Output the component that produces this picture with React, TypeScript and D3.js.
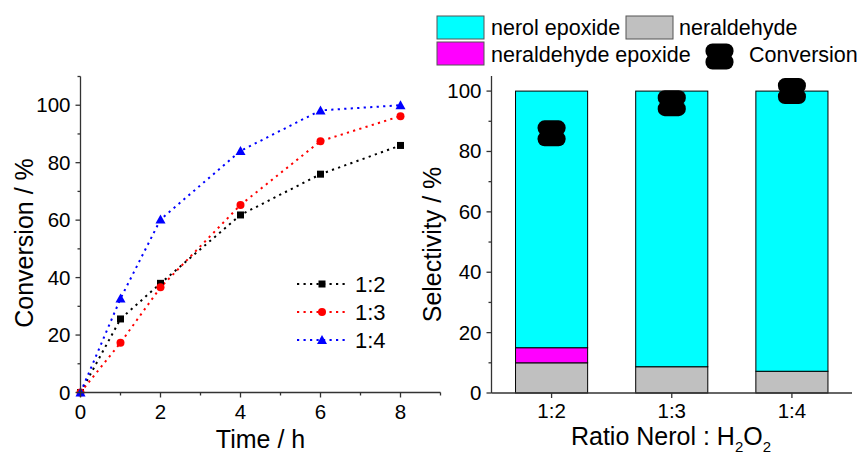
import React from "react";
import * as d3 from "d3";

const times = [0, 1, 2, 4, 6, 8];
const conv12 = [0, 25.6, 38, 61.8, 76, 86];
const conv13 = [0, 17.3, 36.6, 65.3, 87.5, 96.2];
const conv14 = [0, 32.7, 60.2, 84.1, 98.2, 100];
const seriesNames = ["1:2", "1:3", "1:4"];
const seriesColors = ["#000000", "#FF0000", "#0000FF"];

const ratios = ["1:2", "1:3", "1:4"];
const neraldehyde = [10, 8.7, 7.2];
const neraldehydeEpoxide = [5, 0, 0];
const nerolEpoxide = [85, 91.3, 92.8];
const conversion = [86, 96, 100];

const leftXTicks = [0, 2, 4, 6, 8];
const leftYTicks = [0, 20, 40, 60, 80, 100];
const rightYTicks = [0, 20, 40, 60, 80, 100];

const FONT = "'Liberation Sans', Arial, sans-serif";

function Marker({ kind, x, y, color }: { kind: number; x: number; y: number; color: string }) {
  if (kind === 0) return <rect x={x - 3.5} y={y - 3.5} width={7} height={7} fill={color} />;
  if (kind === 1) return <circle cx={x} cy={y} r={4} fill={color} />;
  return <path d={`M${x},${y - 5} L${x + 5},${y + 4} L${x - 5},${y + 4} Z`} fill={color} />;
}

function Blob({ x, y }: { x: number; y: number }) {
  return (
    <g fill="#000">
      <rect x={x - 14} y={y - 13} width={28} height={15} rx={7} ry={7} />
      <rect x={x - 14} y={y - 2} width={28} height={15} rx={7} ry={7} />
    </g>
  );
}

export default function App() {
  const W = 857, H = 455;
  // left chart
  const lx = d3.scaleLinear().domain([0, 9]).range([80.5, 440.5]);
  const ly = d3.scaleLinear().domain([0, 110]).range([392.5, 76.5]);
  const series = [conv12, conv13, conv14];
  const line = (vals: number[]) =>
    d3.line<number>().x((_, i) => lx(times[i])).y((v) => ly(v))(vals) || "";

  // right chart
  const rx = d3.scaleBand<string>().domain(ratios).range([491.5, 852]).paddingInner(0.4).paddingOuter(0.2);
  const ry = d3.scaleLinear().domain([0, 105]).range([393, 76]);

  const axisColor = "#333";
  const leftMinorY = d3.range(10, 111, 20);
  const leftMinorX = [1, 3, 5, 7, 9];
  const rightMinorY = d3.range(10, 101, 20);

  const stacks = ratios.map((r, i) => {
    const a = neraldehyde[i];
    const b = a + neraldehydeEpoxide[i];
    const c = b + nerolEpoxide[i];
    return { r, segs: [[0, a, "#C0C0C0"], [a, b, "#FF00FF"], [b, c, "#00FFFF"]] as [number, number, string][] };
  });

  return (
    <svg width={W} height={H} style={{ display: "block", position: "absolute", left: 0, top: 0 }} fontFamily={FONT}>
      <rect width={W} height={H} fill="#fff" />
      {/* LEFT CHART */}
      <g>
        {series.map((s, si) => (
          <path key={si} d={line(s)} fill="none" stroke={seriesColors[si]} strokeWidth={2} strokeDasharray="2.2 4.3" />
        ))}
        {series.map((s, si) =>
          s.map((v, i) => <Marker key={`${si}-${i}`} kind={si} x={lx(times[i])} y={ly(v)} color={seriesColors[si]} />)
        )}
        {/* axes */}
        <line x1={lx(0)} x2={lx(0)} y1={ly(0)} y2={ly(110)} stroke={axisColor} strokeWidth={1.3} />
        <line x1={lx(0)} x2={lx(9)} y1={ly(0)} y2={ly(0)} stroke={axisColor} strokeWidth={1.3} />
        {leftYTicks.map((t) => (
          <g key={t}>
            <line x1={lx(0) - 5} x2={lx(0)} y1={ly(t)} y2={ly(t)} stroke={axisColor} strokeWidth={1.3} />
            <text x={lx(0) - 10} y={ly(t) + 7} fontSize={20.5} textAnchor="end" fill="#000">{t}</text>
          </g>
        ))}
        {leftMinorY.map((t) => (
          <line key={t} x1={lx(0) - 3} x2={lx(0)} y1={ly(t)} y2={ly(t)} stroke={axisColor} strokeWidth={1.3} />
        ))}
        {leftXTicks.map((t) => (
          <g key={t}>
            <line x1={lx(t)} x2={lx(t)} y1={ly(0)} y2={ly(0) + 5} stroke={axisColor} strokeWidth={1.3} />
            <text x={lx(t)} y={ly(0) + 26} fontSize={20.5} textAnchor="middle" fill="#000">{t}</text>
          </g>
        ))}
        {leftMinorX.map((t) => (
          <line key={t} x1={lx(t)} x2={lx(t)} y1={ly(0)} y2={ly(0) + 3} stroke={axisColor} strokeWidth={1.3} />
        ))}
        <text x={lx(4.5)} y={448} fontSize={25} textAnchor="middle" fill="#000">Time / h</text>
        <text transform={`translate(33,243) rotate(-90)`} fontSize={25} textAnchor="middle" fill="#000">Conversion / %</text>
        {/* legend */}
        {seriesNames.map((n, i) => {
          const yy = 284 + i * 28;
          return (
            <g key={n}>
              <line x1={297} x2={346} y1={yy} y2={yy} stroke={seriesColors[i]} strokeWidth={2} strokeDasharray="2.2 4.3" />
              <Marker kind={i} x={322} y={yy} color={seriesColors[i]} />
              <text x={355} y={yy + 8} fontSize={22} fill="#000">{n}</text>
            </g>
          );
        })}
      </g>

      {/* RIGHT CHART */}
      <g>
        {stacks.map((s) =>
          s.segs.map(([a, b, c], k) =>
            b > a ? (
              <rect key={`${s.r}-${k}`} x={rx(s.r)} y={ry(b)} width={rx.bandwidth()} height={ry(a) - ry(b)} fill={c} stroke="#000" strokeWidth={1} />
            ) : null
          )
        )}
        {ratios.map((r, i) => (
          <Blob key={r} x={(rx(r) || 0) + rx.bandwidth() / 2} y={ry(conversion[i])} />
        ))}
        <line x1={491.5} x2={491.5} y1={ry(0)} y2={ry(105)} stroke={axisColor} strokeWidth={1.3} />
        <line x1={491.5} x2={852} y1={ry(0)} y2={ry(0)} stroke={axisColor} strokeWidth={1.3} />
        {rightYTicks.map((t) => (
          <g key={t}>
            <line x1={486.5} x2={491.5} y1={ry(t)} y2={ry(t)} stroke={axisColor} strokeWidth={1.3} />
            <text x={481.5} y={ry(t) + 7} fontSize={20.5} textAnchor="end" fill="#000">{t}</text>
          </g>
        ))}
        {rightMinorY.map((t) => (
          <line key={t} x1={488.5} x2={491.5} y1={ry(t)} y2={ry(t)} stroke={axisColor} strokeWidth={1.3} />
        ))}
        {ratios.map((r) => {
          const cx = (rx(r) || 0) + rx.bandwidth() / 2;
          return (
            <g key={r}>
              <line x1={cx} x2={cx} y1={ry(0)} y2={ry(0) + 5} stroke={axisColor} strokeWidth={1.3} />
              <text x={cx} y={ry(0) + 25} fontSize={20.5} textAnchor="middle" fill="#000">{r}</text>
            </g>
          );
        })}
        <text x={671} y={445} fontSize={25} textAnchor="middle" fill="#000">
          Ratio Nerol : H<tspan fontSize={15} dy={7}>2</tspan><tspan dy={-7}>O</tspan><tspan fontSize={15} dy={7}>2</tspan>
        </text>
        <text transform={`translate(441,244.5) rotate(-90)`} fontSize={25} textAnchor="middle" fill="#000">Selectivity / %</text>
        {/* legend */}
        <rect x={437} y={16} width={47} height={23} fill="#00FFFF" stroke="#555" strokeWidth={1} />
        <text x={491} y={35} fontSize={21.5} fill="#000">nerol epoxide</text>
        <rect x={626} y={16} width={47} height={23} fill="#C0C0C0" stroke="#555" strokeWidth={1} />
        <text x={679} y={35} fontSize={21.5} fill="#000">neraldehyde</text>
        <rect x={437} y={42} width={47} height={23} fill="#FF00FF" stroke="#555" strokeWidth={1} />
        <text x={491} y={62} fontSize={21.5} fill="#000">neraldehyde epoxide</text>
        <Blob x={719.5} y={56.5} />
        <text x={749} y={62} fontSize={21.5} fill="#000">Conversion</text>
      </g>
    </svg>
  );
}
